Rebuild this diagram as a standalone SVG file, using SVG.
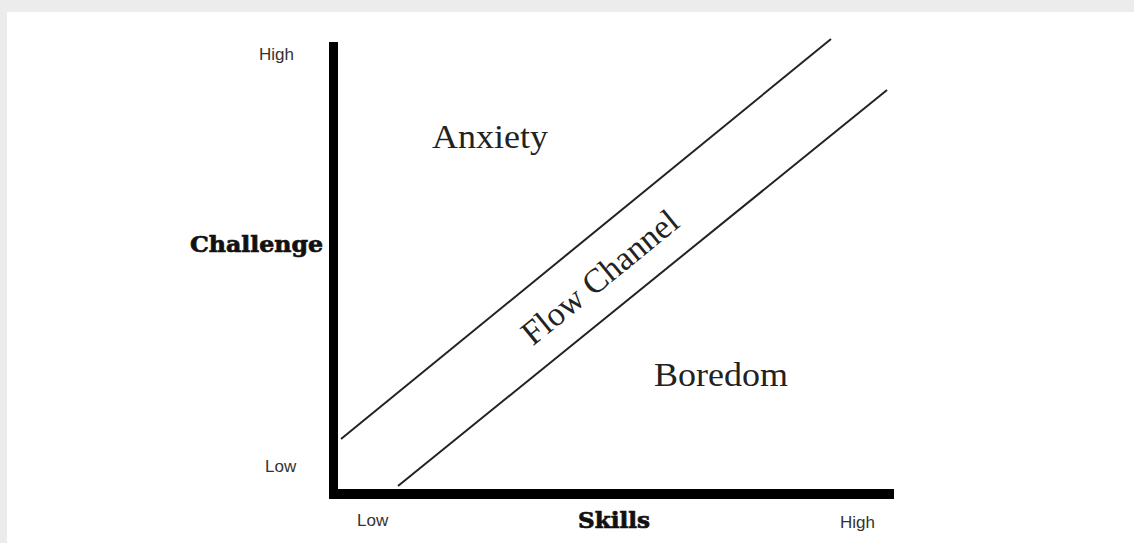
<svg xmlns="http://www.w3.org/2000/svg" width="1134" height="543" viewBox="0 0 1134 543">
<style>
.lbl{font-family:"Liberation Sans",Arial,sans-serif;font-size:17px;fill:#333}
.axt{font-family:"DejaVu Serif","Liberation Serif",serif;font-weight:bold;font-size:22px;fill:#111;stroke:#111;stroke-width:0.7}
.reg{font-family:"Liberation Serif","Times New Roman",serif;font-size:34px;fill:#222}
.diag{stroke:#222;stroke-width:2;fill:none}
</style>
<rect x="0" y="0" width="1134" height="543" fill="#ececec"/>
<rect x="7" y="12" width="1127" height="531" fill="#ffffff"/>
<g id="axes">
<rect x="329" y="42" width="9" height="457" fill="#000"/>
<rect x="329" y="489" width="565" height="10" fill="#000"/>
</g>
<g id="connectors">
<line class="diag" x1="341" y1="439" x2="831" y2="39"/>
<line class="diag" x1="398" y1="486" x2="887" y2="90"/>
</g>
<g id="axis-labels">
<text class="lbl" x="259" y="60">High</text>
<text class="lbl" x="265" y="472">Low</text>
<text class="lbl" x="357" y="526">Low</text>
<text class="lbl" x="840" y="528">High</text>
<text class="axt" x="190" y="252" textLength="133" lengthAdjust="spacingAndGlyphs">Challenge</text>
<text class="axt" x="578" y="528" textLength="72" lengthAdjust="spacingAndGlyphs">Skills</text>
</g>
<g id="anxiety"><text class="reg" x="432" y="148" textLength="116" lengthAdjust="spacingAndGlyphs">Anxiety</text></g>
<g id="boredom"><text class="reg" x="654" y="386" textLength="134" lengthAdjust="spacingAndGlyphs">Boredom</text></g>
<g id="flow-channel"><text class="reg" x="0" y="0" text-anchor="middle" font-size="36" transform="translate(607,286) rotate(-39.2)">Flow Channel</text></g>
</svg>
